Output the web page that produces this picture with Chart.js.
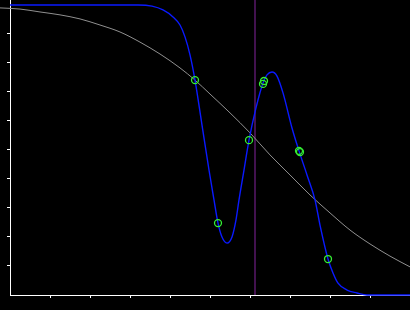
<!DOCTYPE html>
<html>
<head>
<meta charset="utf-8">
<script src="https://cdn.jsdelivr.net/npm/chart.js@4/dist/chart.umd.min.js"></script>
<style>
  html, body { margin: 0; padding: 0; background: #000; }
  #wrap { width: 410px; height: 310px; }
</style>
</head>
<body>
<div id="wrap"><canvas id="myChart" width="410" height="310"></canvas></div>
<script>
// values (x: 0..10, y: 0..10)
const fitX = [-0.25, 0.25, 0.75, 1.25, 1.75, 2.25, 2.75, 3.25, 3.75, 4.25, 4.625, 5.0, 5.5, 6.0, 6.5, 7.0, 7.5, 8.0, 8.5, 9.0, 9.5, 10.0];
const fitY = [9.90, 9.86, 9.76, 9.66, 9.52, 9.31, 9.07, 8.72, 8.31, 7.83, 7.41, 6.93, 6.28, 5.59, 4.83, 4.14, 3.45, 2.83, 2.24, 1.76, 1.34, 0.97];

const curveX = [0, 3.2, 3.55, 3.825, 4.075, 4.25, 4.375, 4.5, 4.625, 4.8, 4.975, 5.1, 5.2, 5.3, 5.425, 5.55, 5.65, 5.725, 5.85, 5.975, 6.15, 6.325, 6.425, 6.55, 6.675, 6.825, 7.05, 7.225, 7.425, 7.625, 7.75, 7.95, 8.075, 8.2, 8.425, 8.675, 8.925, 10];
const curveY = [10.0, 10.0, 9.96, 9.83, 9.59, 9.31, 8.90, 8.28, 7.41, 5.86, 4.31, 3.28, 2.48, 2.0, 1.79, 2.0, 2.59, 3.28, 4.31, 5.34, 6.45, 7.31, 7.59, 7.69, 7.55, 6.97, 5.76, 4.97, 4.14, 3.28, 2.41, 1.24, 0.76, 0.41, 0.17, 0.07, 0, 0];

const sampleX = [4.625, 5.2, 5.975, 6.35, 6.325, 7.225, 7.25, 7.95];
const sampleY = [7.41, 2.48, 5.34, 7.38, 7.28, 4.97, 4.93, 1.24];

const markerX = 6.125;
const axisTicks = [1, 2, 3, 4, 5, 6, 7, 8, 9];

const toPoints = (xs, ys) => xs.map((x, i) => ({ x: x, y: ys[i] }));

const ctx = document.getElementById('myChart').getContext('2d');
const myChart = new Chart(ctx, {
    type: 'line',
    data: {
        datasets: [
            {
                label: 'samples',
                data: toPoints(sampleX, sampleY),
                showLine: false,
                pointRadius: 3.5,
                pointBorderWidth: 1.3,
                pointBorderColor: '#33ee33',
                pointBackgroundColor: 'rgba(0,0,0,0)',
                order: 0
            },
            {
                label: 'curve',
                data: toPoints(curveX, curveY),
                borderColor: '#0a1aff',
                borderWidth: 1.4,
                pointRadius: 0,
                cubicInterpolationMode: 'monotone',
                clip: false,
                order: 1
            },
            {
                label: 'fit',
                data: toPoints(fitX, fitY),
                borderColor: '#909090',
                borderWidth: 1,
                pointRadius: 0,
                cubicInterpolationMode: 'monotone',
                clip: false,
                order: 2
            },
            {
                label: 'marker',
                data: [{ x: markerX, y: 0 }, { x: markerX, y: 10.1724 }],
                borderColor: '#84249e',
                borderWidth: 1,
                pointRadius: 0,
                order: 3
            }
        ]
    },
    options: {
        responsive: false,
        animation: false,
        events: [],
        layout: { padding: 0, autoPadding: false },
        plugins: {
            legend: { display: false },
            tooltip: { enabled: false }
        },
        scales: {
            x: {
                type: 'linear',
                min: 0,
                max: 10,
                afterBuildTicks: function(scale) {
                    scale.ticks = axisTicks.map(v => ({ value: v }));
                },
                afterFit: function(scale) { scale.height = 15; },
                ticks: { display: false },
                grid: { drawOnChartArea: false, drawTicks: true, tickLength: 3, color: '#ffffff', lineWidth: 1 },
                border: { display: true, color: '#ffffff', width: 1 }
            },
            y: {
                type: 'linear',
                min: 0,
                max: 10.1724,
                afterBuildTicks: function(scale) {
                    scale.ticks = axisTicks.map(v => ({ value: v }));
                },
                afterFit: function(scale) { scale.width = 10; },
                ticks: { display: false },
                grid: { drawOnChartArea: false, drawTicks: true, tickLength: 3, color: '#ffffff', lineWidth: 1 },
                border: { display: true, color: '#ffffff', width: 1 }
            }
        }
    }
});
</script>
</body>
</html>
